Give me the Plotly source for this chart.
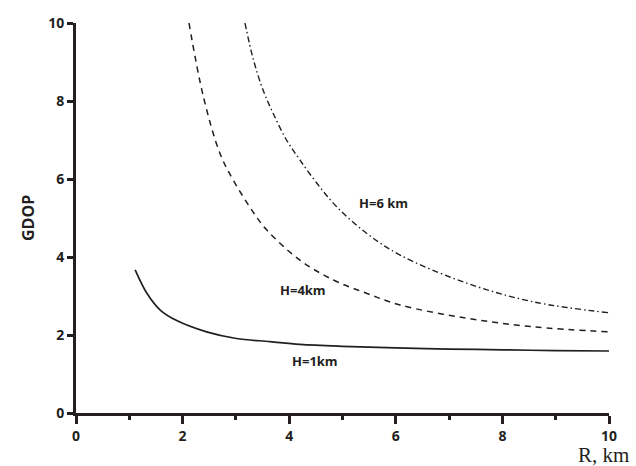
import plotly.graph_objects as go

# GDOP versus horizontal range R for three heights H
r_h1 = [1.11, 1.33, 1.58, 1.89, 2.45, 3.01, 3.64, 4.2, 5.0, 6.0, 7.0, 8.0, 9.0, 10.0]
gdop_h1 = [3.67, 3.07, 2.64, 2.37, 2.08, 1.91, 1.83, 1.76, 1.71, 1.67, 1.64, 1.62, 1.60, 1.59]

r_h4 = [2.12, 2.39, 2.70, 2.95, 3.36, 3.58, 4.20, 4.83, 5.45, 6.08, 7.33, 8.58, 10.0]
gdop_h4 = [10.0, 8.11, 6.66, 5.97, 5.08, 4.69, 3.92, 3.41, 3.07, 2.77, 2.43, 2.21, 2.08]

r_h6 = [3.17, 3.33, 3.51, 3.70, 3.95, 4.20, 4.52, 4.89, 5.45, 6.08, 7.33, 8.58, 10.0]
gdop_h6 = [10.0, 9.05, 8.28, 7.68, 7.0, 6.49, 5.89, 5.29, 4.61, 4.05, 3.33, 2.85, 2.57]

curve_labels = ["H=1km", "H=4km", "H=6 km"]
label_x = [4.48, 4.26, 5.76]
label_y = [1.33, 3.15, 5.38]

ink = "#231f20"
sans = "Open Sans"

fig = go.Figure()
fig.add_trace(go.Scatter(x=r_h1, y=gdop_h1, mode="lines",
                         line=dict(color=ink, width=1.7, shape="spline", smoothing=1.0)))
fig.add_trace(go.Scatter(x=r_h4, y=gdop_h4, mode="lines",
                         line=dict(color=ink, width=1.5, dash="6px,5px", shape="spline", smoothing=1.0)))
fig.add_trace(go.Scatter(x=r_h6, y=gdop_h6, mode="lines",
                         line=dict(color=ink, width=1.4, dash="6px,3px,1.5px,3px", shape="spline", smoothing=1.0)))

for txt, lx, ly in zip(curve_labels, label_x, label_y):
    fig.add_annotation(x=lx, y=ly, text=txt, showarrow=False,
                       font=dict(family=sans, size=13, color=ink, weight="bold"),
                       xanchor="center", yanchor="middle")

# axis titles
fig.add_annotation(xref="paper", yref="paper", x=-0.09, y=0.5, text="GDOP", showarrow=False,
                   textangle=-90, font=dict(family=sans, size=16, color=ink, weight="bold"),
                   xanchor="center", yanchor="middle")
fig.add_annotation(xref="paper", yref="paper", x=0.99, y=-0.108, text="R, km", showarrow=False,
                   font=dict(family="Liberation Serif", size=21, color=ink),
                   xanchor="center", yanchor="middle")

axis_common = dict(range=[0, 10], dtick=2, showgrid=False, zeroline=False,
                   showline=True, linecolor=ink, linewidth=3,
                   ticks="outside", tickcolor=ink, tickwidth=2.5,
                   tickfont=dict(family=sans, size=14, color=ink, weight="bold"))

fig.update_xaxes(**axis_common, ticklen=8,
                 minor=dict(dtick=1, ticks="outside", ticklen=4, tickwidth=2.5, tickcolor=ink))
fig.update_yaxes(**axis_common, ticklen=6)

fig.update_layout(width=636, height=466, showlegend=False,
                  margin=dict(l=76, r=27, t=23, b=53),
                  plot_bgcolor="white", paper_bgcolor="white")

fig.write_html("out.html")
